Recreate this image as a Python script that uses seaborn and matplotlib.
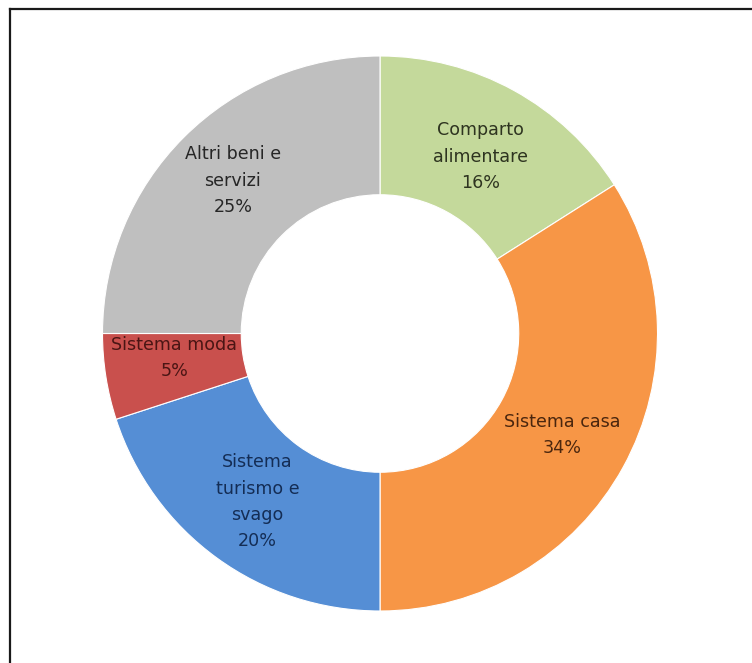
import matplotlib
matplotlib.use("Agg")
import matplotlib.pyplot as plt
from matplotlib.lines import Line2D
import numpy as np
import seaborn as sns

# Quota di spesa per comparto
categories = ["Comparto\nalimentare", "Sistema casa", "Sistema\nturismo e\nsvago",
              "Sistema moda", "Altri beni e\nservizi"]
shares = [16, 34, 20, 5, 25]
colors = ["#C4D99B", "#F79646", "#558ED5", "#C9504D", "#BFBFBF"]
text_colors = ["#2E3420", "#4A260E", "#142D55", "#4A1514", "#262626"]
# piccolo spostamento verticale delle etichette (unità del raggio)
label_dy = [-0.02, -0.005, 0.0, 0.03, 0.02]

sns.set_theme(style="white")
plt.rcParams["font.family"] = ["DejaVu Sans"]

W, H = 752, 663
fig = plt.figure(figsize=(W / 100, H / 100), dpi=100)
fig.patch.set_facecolor("white")

cx, cy, r = 380, 333.5, 277.5
ax = fig.add_axes([(cx - r) / W, (H - cy - r) / H, 2 * r / W, 2 * r / H])

wedges, _ = ax.pie(
    shares,
    colors=colors,
    startangle=90,
    counterclock=False,
    radius=1.0,
    wedgeprops=dict(width=0.5, edgecolor="white", linewidth=0.8),
)

# Etichette al centro di ogni settore
for w, name, val, tc, dy in zip(wedges, categories, shares, text_colors, label_dy):
    ang = np.deg2rad((w.theta1 + w.theta2) / 2)
    x, y = 0.75 * np.cos(ang), 0.75 * np.sin(ang) + dy
    ax.text(x, y, f"{name}\n{val}%", ha="center", va="center",
            fontsize=12.6, color=tc, linespacing=1.6)

ax.set_xlim(-1, 1)
ax.set_ylim(-1, 1)
ax.set_aspect("equal")
ax.axis("off")

# Cornice superiore e sinistra
lx, ty = 9.5 / W, 1 - 8.5 / H
fig.add_artist(Line2D([lx, lx], [0, ty], color="#1a1a1a", lw=1.6,
                      transform=fig.transFigure, solid_capstyle="projecting"))
fig.add_artist(Line2D([lx, 1], [ty, ty], color="#1a1a1a", lw=1.6,
                      transform=fig.transFigure, solid_capstyle="projecting"))

fig.savefig("out.png", dpi=100, facecolor="white")
